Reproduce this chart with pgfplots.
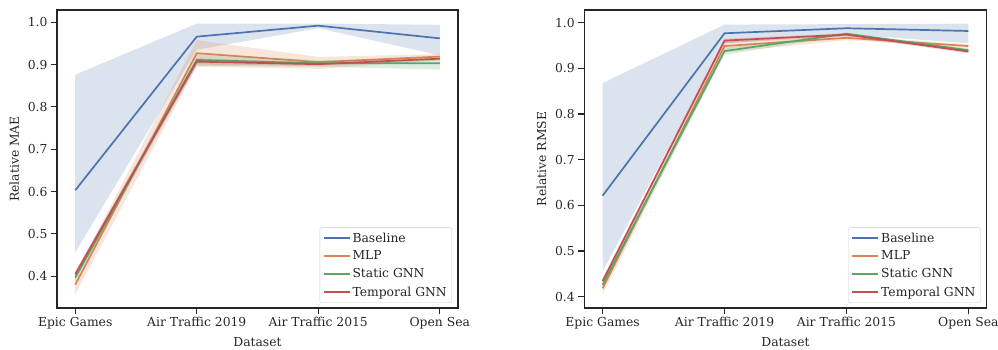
\documentclass[border=0pt]{standalone}
\usepackage{fontspec}
\setmainfont{DejaVu Serif}
\usepackage{pgfplots}
\pgfplotsset{compat=1.18}
\definecolor{sbblue}{HTML}{4C72B0}
\definecolor{sborange}{HTML}{DD8452}
\definecolor{sbgreen}{HTML}{55A868}
\definecolor{sbred}{HTML}{C44E52}
\definecolor{sbdark}{gray}{0.15}
\pgfplotsset{
  myax/.style={
    scale only axis,
    width=401bp, height=298bp,
    anchor=south west,
    xmin=-0.15, xmax=3.15,
    xtick={0,1,2,3},
    xticklabels={Epic Games, Air Traffic 2019, Air Traffic 2015, Open Sea},
    ytick={0.4,0.5,0.6,0.7,0.8,0.9,1.0},
    yticklabel style={/pgf/number format/.cd, fixed, fixed zerofill, precision=1},
    /pgf/number format/assume math mode=true,
    tick align=outside,
    xtick pos=bottom, ytick pos=left,
    major tick length=6bp,
    tick style={sbdark, line width=1.1bp},
    axis line style={sbdark, line width=1.2bp},
    every tick label/.append style={font=\fontsize{12.4}{14}\selectfont, text=sbdark},
    label style={font=\fontsize{12.4}{14}\selectfont, text=sbdark},
    xlabel={Dataset},
    xlabel style={yshift=-1bp},
    ylabel style={yshift=2bp},
    legend cell align=left,
    legend style={at={(0.985,0.017)}, anchor=south east, draw=black!20, rounded corners=2bp,
      fill=white, fill opacity=0.8, text opacity=1,
      font=\fontsize{12.4}{14}\selectfont, text=sbdark, row sep=3.4bp, inner sep=3bp},
    legend image code/.code={\draw[##1] (0bp,0bp) -- (26bp,0bp);},
    line/.style={line width=1.7bp},
    band/.style={draw=none, fill opacity=0.2, forget plot},
  }
}
\begin{document}
\begin{tikzpicture}
\path[use as bounding box] (0,0) rectangle (998bp,350bp);
% ---- Left: MAE ----
\begin{axis}[myax, at={(57bp,42bp)}, ymin=0.325, ymax=1.029, ylabel={Relative MAE}]
\addplot[band, fill=sbblue] coordinates {(0,0.876) (1,0.997) (2,0.997) (3,0.994) (3,0.922) (2,0.986) (1,0.935) (0,0.456)} -- cycle;
\addplot[line, sbblue] coordinates {(0,0.603) (1,0.966) (2,0.992) (3,0.962)};
\addlegendentry{Baseline}
\addplot[band, fill=sborange] coordinates {(0,0.405) (1,0.958) (2,0.918) (3,0.925) (3,0.910) (2,0.890) (1,0.895) (0,0.357)} -- cycle;
\addplot[line, sborange] coordinates {(0,0.380) (1,0.927) (2,0.906) (3,0.919)};
\addlegendentry{MLP}
\addplot[band, fill=sbgreen] coordinates {(0,0.405) (1,0.925) (2,0.910) (3,0.915) (3,0.888) (2,0.895) (1,0.897) (0,0.388)} -- cycle;
\addplot[line, sbgreen] coordinates {(0,0.397) (1,0.911) (2,0.903) (3,0.903)};
\addlegendentry{Static GNN}
\addplot[band, fill=sbred] coordinates {(0,0.412) (1,0.915) (2,0.906) (3,0.918) (3,0.910) (2,0.897) (1,0.900) (0,0.398)} -- cycle;
\addplot[line, sbred] coordinates {(0,0.405) (1,0.907) (2,0.901) (3,0.914)};
\addlegendentry{Temporal GNN}
\end{axis}
% ---- Right: RMSE ----
\begin{axis}[myax, at={(584.3bp,42bp)}, width=402.4bp, ymin=0.375, ymax=1.028, ylabel={Relative RMSE}]
\addplot[band, fill=sbblue] coordinates {(0,0.868) (1,0.996) (2,0.997) (3,0.998) (3,0.955) (2,0.975) (1,0.955) (0,0.455)} -- cycle;
\addplot[line, sbblue] coordinates {(0,0.621) (1,0.977) (2,0.988) (3,0.982)};
\addlegendentry{Baseline}
\addplot[band, fill=sborange] coordinates {(0,0.430) (1,0.960) (2,0.972) (3,0.953) (3,0.945) (2,0.962) (1,0.935) (0,0.405)} -- cycle;
\addplot[line, sborange] coordinates {(0,0.418) (1,0.949) (2,0.967) (3,0.949)};
\addlegendentry{MLP}
\addplot[band, fill=sbgreen] coordinates {(0,0.434) (1,0.945) (2,0.978) (3,0.944) (3,0.936) (2,0.972) (1,0.930) (0,0.418)} -- cycle;
\addplot[line, sbgreen] coordinates {(0,0.426) (1,0.938) (2,0.976) (3,0.940)};
\addlegendentry{Static GNN}
\addplot[band, fill=sbred] coordinates {(0,0.440) (1,0.965) (2,0.977) (3,0.940) (3,0.933) (2,0.970) (1,0.955) (0,0.428)} -- cycle;
\addplot[line, sbred] coordinates {(0,0.434) (1,0.961) (2,0.974) (3,0.937)};
\addlegendentry{Temporal GNN}
\end{axis}
\end{tikzpicture}
\end{document}
